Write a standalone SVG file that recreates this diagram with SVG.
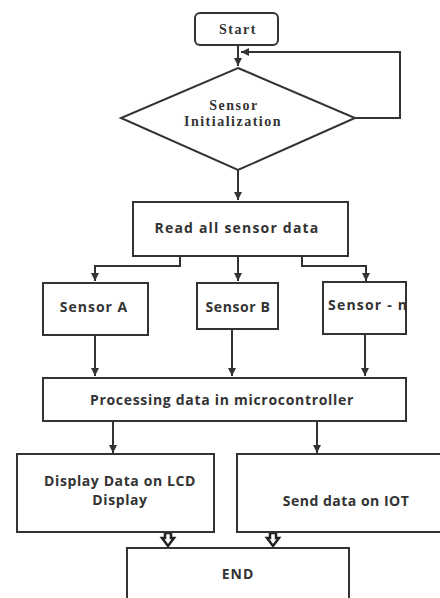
<svg xmlns="http://www.w3.org/2000/svg" width="440" height="598" viewBox="0 0 440 598">
<defs>
<marker id="ah" viewBox="0 0 10 10" refX="10" refY="5" markerWidth="4" markerHeight="4" orient="auto-start-reverse">
<path d="M0,0 L10,5 L0,10 z" fill="#333"/>
</marker>
</defs>
<style>
.box{fill:#fff;stroke:#333;stroke-width:2}
.ln{fill:none;stroke:#333;stroke-width:2}
.serif{font-family:"Liberation Serif","Times New Roman",serif;font-weight:bold;font-size:14px;letter-spacing:1.5px;fill:#333}
.sans{font-family:"Open Sans","Liberation Sans",Arial,sans-serif;font-weight:bold;font-size:14px;fill:#333}
.blk{fill:#fff;stroke:#222;stroke-width:2.5;stroke-linejoin:miter}
</style>
<rect width="440" height="598" fill="#fff"/>
<g id="connectors">
<path class="ln" d="M238,45 V66" marker-end="url(#ah)"/>
<path class="ln" d="M355,118 H400 V52 H241" marker-end="url(#ah)"/>
<path class="ln" d="M238,170 V200" marker-end="url(#ah)"/>
<path class="ln" d="M180,256 V266 H95 V281" marker-end="url(#ah)"/>
<path class="ln" d="M238,256 V281" marker-end="url(#ah)"/>
<path class="ln" d="M302,256 V266 H366 V281" marker-end="url(#ah)"/>
<path class="ln" d="M95,335 V376" marker-end="url(#ah)"/>
<path class="ln" d="M232,329 V376" marker-end="url(#ah)"/>
<path class="ln" d="M365,334 V376" marker-end="url(#ah)"/>
<path class="ln" d="M113,421 V453" marker-end="url(#ah)"/>
<path class="ln" d="M317,421 V453" marker-end="url(#ah)"/>
<path class="blk" d="M165,533 h6 v5 h3 l-6,8 l-6,-8 h3 z"/>
<path class="blk" d="M270,533 h6 v5 h3 l-6,8 l-6,-8 h3 z"/>
</g>
<g id="start">
<rect class="box" x="195" y="13" width="83" height="32" rx="5"/>
<text class="serif" x="238" y="34" text-anchor="middle">Start</text>
</g>
<g id="init">
<polygon class="box" points="238,68 355,118 238,170 121,118"/>
<text class="serif" x="234" y="110" text-anchor="middle">Sensor</text>
<text class="serif" x="233" y="126" text-anchor="middle">Initialization</text>
</g>
<g id="read">
<rect class="box" x="133" y="202" width="215" height="54"/>
<text class="sans" x="237" y="233" text-anchor="middle" font-size="15" letter-spacing="1.2">Read all sensor data</text>
</g>
<g id="sensorA">
<rect class="box" x="43" y="283" width="105" height="52"/>
<text class="sans" x="94" y="312" text-anchor="middle" font-size="15" letter-spacing="1">Sensor A</text>
</g>
<g id="sensorB">
<rect class="box" x="197" y="283" width="81" height="46"/>
<text class="sans" x="238" y="312" text-anchor="middle" font-size="15" letter-spacing="0.6">Sensor B</text>
</g>
<g id="sensorN">
<rect class="box" x="323" y="282" width="83" height="52"/>
<text class="sans" x="328" y="310" font-size="15" letter-spacing="1.2">Sensor - n</text>
</g>
<g id="process">
<rect class="box" x="43" y="378" width="363" height="43"/>
<text class="sans" x="222" y="405" text-anchor="middle" letter-spacing="0.7">Processing data in microcontroller</text>
</g>
<g id="display">
<rect class="box" x="17" y="454" width="197" height="78"/>
<text class="sans" x="120" y="486" text-anchor="middle" letter-spacing="0.6">Display Data on LCD</text>
<text class="sans" x="120" y="505" text-anchor="middle" letter-spacing="0.6">Display</text>
</g>
<g id="send">
<rect class="box" x="237" y="454" width="210" height="78"/>
<text class="sans" x="346" y="506" text-anchor="middle" letter-spacing="0.5">Send data on IOT</text>
</g>
<g id="end">
<rect class="box" x="127" y="548" width="222" height="60"/>
<text class="sans" x="238" y="579" text-anchor="middle" font-size="15" letter-spacing="1">END</text>
</g>
</svg>
